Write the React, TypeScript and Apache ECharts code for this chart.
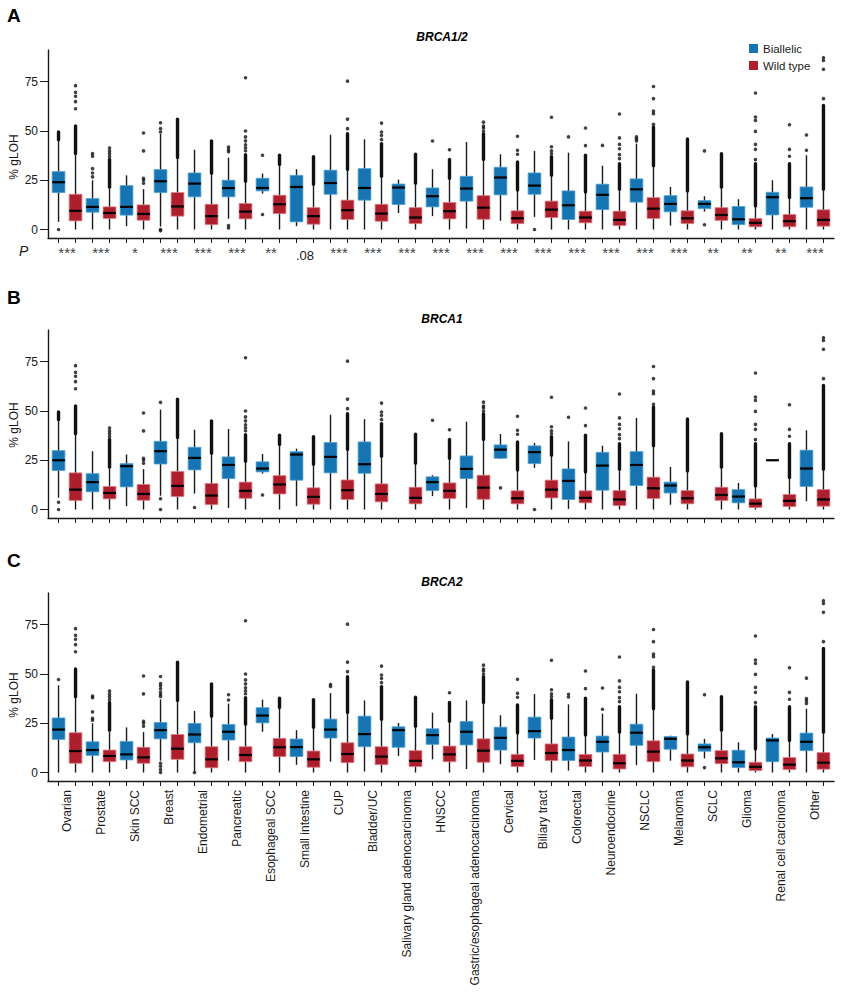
import React, { useEffect, useRef } from 'react';
import * as echarts from 'echarts';

const categories = [
  'Ovarian', 'Prostate', 'Skin SCC', 'Breast', 'Endometrial', 'Pancreatic', 'Esophageal SCC',
  'Small intestine', 'CUP', 'Bladder/UC', 'Salivary gland adenocarcinoma', 'HNSCC',
  'Gastric/esophageal adenocarcinoma', 'Cervical', 'Biliary tract', 'Colorectal', 'Neuroendocrine',
  'NSCLC', 'Melanoma', 'SCLC', 'Glioma', 'Renal cell carcinoma', 'Other',
];

const pValues = [
  '***', '***', '*', '***', '***', '***', '**', '.08', '***', '***', '***', '***',
  '***', '***', '***', '***', '***', '***', '***', '**', '**', '**', '***',
];

const yTickValues = [0, 25, 50, 75];

// box stats: [min, Q1, median, Q3, max]
const brca12Biallelic = [
  [3.9, 18.75, 24, 29.4, 45], [0, 8.8, 11.5, 15.7, 25], [1.7, 7.3, 11.5, 22.3, 27.5],
  [1.5, 18.75, 24.5, 30.4, 48.5], [0, 16.6, 23.3, 28.7, 40.5], [5.5, 16.6, 21, 25, 36.5],
  [18.2, 19.6, 21.1, 26, 28.4], [1.7, 3.9, 21.6, 27.5, 30.6], [0, 17.9, 23.6, 30.1, 48.1],
  [0, 14.9, 21.1, 30.9, 45.8], [8.4, 12.7, 21.3, 23.1, 25.3], [6.8, 11.5, 16.9, 21.1, 30.6],
  [0.5, 14.4, 20.8, 27, 44.4], [4.4, 17.6, 26.4, 31.6, 38.2], [6.4, 17.9, 22.3, 28.7, 39.9],
  [0, 5.1, 12.3, 19.6, 39], [0, 10.1, 17.6, 23, 32.4], [0, 13.9, 20.4, 25.7, 43.6],
  [2, 9, 13, 17.2, 21.6], [9.1, 10.6, 13, 14.7, 16.9], [0, 2.5, 5.2, 11.7, 15.4],
  [0, 7.4, 16.4, 18.9, 25], [0, 11.3, 15.9, 21.6, 37.7],
];
const brca12WildType = [
  [0, 4.4, 9.5, 17.9, 37.7], [0, 5.6, 8.4, 11.5, 20.8], [0, 4.7, 7.9, 12.5, 20.5],
  [0, 6.8, 11.7, 18.75, 36], [0, 2.5, 6.8, 12.8, 28], [0, 5.4, 9.1, 13.2, 24],
  [0, 8.1, 12.8, 17.4, 32.6], [0, 2.7, 6.8, 11.1, 22.5], [0, 5.1, 9.8, 14.9, 30],
  [0, 4.2, 8.1, 12.8, 26.7], [0, 3, 6.1, 11.1, 23], [0, 5.4, 9.3, 13.7, 25.8],
  [0, 5.2, 11.1, 17.2, 35], [0, 3, 5.7, 9.5, 19.6], [0, 6.1, 10.1, 14.4, 27],
  [0, 3.4, 6.1, 9.3, 18.6], [0, 2, 4.9, 9.3, 20], [0, 5.6, 10.6, 16.2, 31.8],
  [0, 3, 5.7, 9.5, 19], [0, 4.6, 7.4, 11.1, 21], [0, 1.4, 3.4, 5.6, 11.5],
  [0, 1.4, 4.2, 7.6, 15.7], [0, 1.7, 4.9, 10, 20],
];
const brca1Biallelic = [
  [6, 19.8, 25, 29.9, 44.8], [0, 9, 13.9, 18.2, 29.6], [1.7, 11.5, 22, 23.3, 27.9],
  [7, 23.1, 29.6, 34.6, 50.7], [8.1, 20.1, 26.2, 31.6, 40.5], [0.8, 15.7, 22.6, 26.7, 40.9],
  [18.2, 19.1, 20.8, 24.2, 28.2], [1.7, 14.9, 27.9, 29.4, 30.9], [0, 18.6, 26.7, 34, 48.1],
  [0, 18.4, 23, 34.3, 45.9], null, [6.8, 9.6, 13.9, 16.6, 17.4],
  [0.7, 15.7, 20.6, 27.2, 44.6], [25.7, 26, 30.4, 32.8, 38.3], [21.1, 23.3, 29.1, 32.3, 33.8],
  [0.3, 5.1, 14.5, 20.6, 34.6], [0, 9.8, 22.3, 29, 32.4], [0, 12.2, 22.6, 29.4, 46.5],
  [2.4, 8.4, 12.2, 13.9, 21.6], null, [0, 3.4, 6.6, 10.1, 13.5],
  [25, 25, 25, 25, 25], [4.2, 11.7, 20.8, 30.1, 40.2],
];
const brca1WildType = [
  [0, 4.6, 10.1, 18.6, 38], [0, 5.4, 8.4, 11.7, 20.8], [0, 4.7, 7.9, 12.7, 20.5],
  [0, 6.6, 12, 19.3, 36], [0, 2.5, 7.1, 13.2, 28], [0, 5.7, 9.5, 13.9, 24],
  [0, 7.9, 12.7, 17.2, 32.6], [0, 2.7, 6.4, 11, 22.5], [0, 5.1, 9.8, 15, 30],
  [0, 3.9, 7.9, 13, 26.7], [0, 2.9, 5.9, 11.3, 23], [0, 5.6, 9.5, 13.5, 25.8],
  [0, 5.2, 11.1, 17.4, 35], [0, 2.9, 5.7, 9.5, 19.6], [0, 5.9, 10.1, 14.9, 27],
  [0, 3.4, 5.9, 9.5, 18.6], [0, 2, 5.1, 9.6, 20], [0, 5.6, 10.8, 16.4, 31.8],
  [0, 2.9, 5.7, 9.6, 19], [0, 4.6, 7.4, 11.3, 21], [0, 1, 3, 5.4, 11.5],
  [0, 1.5, 4.4, 7.6, 15.7], [0, 1.7, 5.1, 10.1, 20],
];
const brca2Biallelic = [
  [0, 16.8, 21.8, 27.7, 44.2], [0, 8.7, 11.4, 15.6, 25], [1.8, 6.4, 9.2, 15.8, 22.9],
  [6, 17.1, 21.5, 25.4, 37.1], [0.5, 15.1, 19.3, 24.9, 31.3], [6, 16.5, 20.7, 24.4, 35],
  [20.7, 25.2, 28.9, 32.9, 37], [3.9, 8.1, 12.9, 17, 21.5], [5.5, 17.5, 21.8, 27.1, 40.3],
  [0.5, 13.1, 19.5, 28.6, 36.6], [8.4, 12.8, 21.5, 23.2, 25.2], [6.7, 14.3, 19, 22.2, 30.4],
  [1.8, 14, 20.7, 25.9, 36.6], [4.2, 11.4, 17.6, 23, 29.1], [6.4, 17.5, 21, 28.1, 39.8],
  [1, 6.1, 11.4, 18, 34.6], [0, 10.4, 15.6, 18.5, 29.9], [3.7, 13.8, 20.2, 24.5, 40],
  [6, 11.8, 17.1, 18.3, 18.7], [7.1, 10.8, 12.8, 14.5, 17.1], [0, 2.5, 5.2, 11.3, 15.3],
  [0, 5.5, 16.3, 17.5, 19.5], [0, 11.1, 15.6, 20, 32.4],
];
const brca2WildType = [
  [0, 4.7, 10.9, 20.2, 38], [0, 5.5, 8.4, 11.4, 20.8], [0, 4.7, 7.7, 12.8, 20.5],
  [0, 6.7, 12.1, 19.3, 36], [0, 2.4, 6.7, 13.1, 28], [0, 5.5, 8.9, 13.1, 24],
  [0, 8.1, 12.8, 17.3, 32.6], [0, 2.7, 6.7, 10.9, 22.5], [0, 5, 9.4, 15.1, 30],
  [0, 4, 8.1, 13.1, 26.7], [0, 3, 5.9, 11.1, 23], [0, 5.5, 9.2, 13.4, 25.8],
  [0, 5.2, 11.1, 17.1, 35], [0, 3, 5.9, 9.2, 19.6], [0, 6.1, 9.9, 14.5, 27],
  [0, 3, 6.1, 9.2, 18.6], [0, 1.8, 4.7, 9.2, 20], [0, 5.5, 10.6, 16.1, 31.8],
  [0, 2.9, 6.1, 9.4, 19], [0, 4.5, 7.2, 11.1, 21], [0, 1, 2.9, 5.2, 11.5],
  [0, 1.5, 4, 7.6, 15.7], [0, 1.7, 5, 10.1, 20],
];

// outliers: single points per category
const brca12BiallelicOutliers = [
  [0], [26.7, 28.7, 30.9, 37.2, 38.5], [], [49.5, 51.2, 54.2, 0, -0.6], [], [39.5, 40.5, 41.8, 2, 0.8],
  [37.7, 7.6], [], [], [], [], [44.9], [], [], [0], [47], [42.7], [45, 46, 47], [], [39.9, 2.4], [], [], [40.2, 48],
];
const brca1BiallelicOutliers = [
  [3.7, 0], [], [], [54.4, 5.5, 0], [1], [], [7.4], [], [], [], [], [45.3], [], [11], [0], [46.8],
  [], [], [], [], [], [], [],
];
const brca2BiallelicOutliers = [
  [47.2], [26.5, 27.5, 30.8, 38, 38.8], [], [38.6, 39.6, 40.8, 42.5, 44, 45.2, 48.7, 4.7, 3.2, 1.5, 0],
  [0], [36.8, 39.5], [], [], [43.7, 44.7], [], [], [], [], [], [], [38.3, 39.7], [32.1, 42.9],
  [], [], [39.5, 2.5], [], [], [35, 36.3, 37.5, 47.9],
];
const wildTypeOutliers = [
  [61.3, 64.9, 67.6, 69.6, 73], [37, 38.5, 39.9, 41.4], [23.5, 25, 26, 39.9, 49], [], [],
  [40, 41.5, 43, 45, 47, 50, 77], [], [], [51.2, 56, 75.3], [45.6, 47.8, 49.5, 54], [], [40.5],
  [50, 51.5, 52.5, 54.5], [38.2, 40.2, 47.3], [38.5, 40, 42, 57], [42.6, 51.5],
  [36, 38, 41, 43.2, 46.5, 58.6], [53.4, 58.8, 60.1, 66.4, 72.6], [], [],
  [35.5, 40.7, 43.2, 49.8, 55.4, 57.1, 69.3], [37.2, 40.7, 53.2], [66.4, 81.3, 85.8, 87.2],
];
// dense runs of overlapping outliers: [category index, from, to]
const brca12BiallelicRuns = [[0, 45.5, 49.5]];
const brca1BiallelicRuns = [[0, 45.5, 49.5]];
const brca2BiallelicRuns: number[][] = [];
const wildTypeRuns = [
  [0, 38.5, 52.5], [1, 21.5, 35.5], [3, 36.5, 56], [4, 28.5, 45], [5, 24.5, 38], [6, 33, 37.7],
  [7, 23, 37], [8, 30.5, 48.6], [9, 27, 43.6], [10, 23.5, 38.2], [11, 26, 35.5], [12, 35.5, 48.6],
  [13, 20, 34.3], [14, 27.5, 37], [15, 19, 37.7], [16, 20.5, 33.4], [17, 32.3, 52], [18, 19.5, 46],
  [19, 21.5, 38.5], [20, 12, 33.4], [21, 16.2, 33.4], [22, 20.5, 63],
];

const BLUE = '#1574b1';
const BLUE_EDGE = '#4c9fd3';
const RED = '#ad1f2d';
const RED_EDGE = '#dc7a83';
const INK = '#1a1a1a';
const FONT = '"Liberation Sans", Arial, Helvetica, sans-serif';

const panels = [
  { letter: 'A', title: 'BRCA1/2', top: 50, letterY: 15, titleY: 37, yLabelY: 157, labels: 'p',
    bi: brca12Biallelic, wt: brca12WildType, biOut: brca12BiallelicOutliers, biRuns: brca12BiallelicRuns },
  { letter: 'B', title: 'BRCA1', top: 330, letterY: 297, titleY: 319, yLabelY: 425, labels: 'none',
    bi: brca1Biallelic, wt: brca1WildType, biOut: brca1BiallelicOutliers, biRuns: brca1BiallelicRuns },
  { letter: 'C', title: 'BRCA2', top: 593, letterY: 560, titleY: 582, yLabelY: 695, labels: 'cat',
    bi: brca2Biallelic, wt: brca2WildType, biOut: brca2BiallelicOutliers, biRuns: brca2BiallelicRuns },
];

const GRID_LEFT = 48;
const GRID_WIDTH = 786;
const GRID_HEIGHT = 188;

function boxData(boxes: (number[] | null)[], offset: number) {
  const out: number[][] = [];
  boxes.forEach((b, i) => { if (b) out.push([2 * i + offset, ...b]); });
  return out;
}
function outlierData(outs: number[][], offset: number) {
  const out: number[][] = [];
  outs.forEach((vals, i) => vals.forEach((v) => out.push([2 * i + offset, v])));
  return out;
}
function runData(runs: number[][], offset: number) {
  return runs.map(([i, lo, hi]) => [2 * i + offset, lo, hi]);
}

const makeBoxRenderer = (fill: string, stroke: string) => (_params: any, api: any) => {
  const x = api.value(0);
  const lo = api.coord([x, api.value(1)]);
  const q1 = api.coord([x, api.value(2)]);
  const med = api.coord([x, api.value(3)]);
  const q3 = api.coord([x, api.value(4)]);
  const hi = api.coord([x, api.value(5)]);
  const w = api.size([1, 0])[0] * 0.75;
  const cx = med[0];
  return {
    type: 'group',
    children: [
      { type: 'line', shape: { x1: cx, y1: lo[1], x2: cx, y2: hi[1] }, style: { stroke: INK, lineWidth: 1.4 } },
      { type: 'rect', shape: { x: cx - w / 2, y: q3[1], width: w, height: Math.max(q1[1] - q3[1], 0) },
        style: { fill, stroke, lineWidth: 0.8 } },
      { type: 'line', shape: { x1: cx - w / 2, y1: med[1], x2: cx + w / 2, y2: med[1] },
        style: { stroke: '#000', lineWidth: 2.2 } },
    ],
  };
};

const renderRun = (_params: any, api: any) => {
  const x = api.value(0);
  const a = api.coord([x, api.value(1)]);
  const b = api.coord([x, api.value(2)]);
  return {
    type: 'line',
    shape: { x1: a[0], y1: a[1], x2: b[0], y2: b[1] },
    style: { stroke: '#111', lineWidth: 3.4, lineCap: 'round' },
  };
};

export default function App() {
  const ref = useRef<HTMLDivElement>(null);
  useEffect(() => {
    if (!ref.current) return;
    const chart = echarts.init(ref.current, undefined, { renderer: 'svg' });
    const tickVals = categories.flatMap((_, i) => [2 * i, 2 * i + 1]);
    const labelVals = categories.map((_, i) => 2 * i + 0.5);

    const grid: any[] = [];
    const xAxis: any[] = [];
    const yAxis: any[] = [];
    const series: any[] = [];
    const graphic: any[] = [];

    panels.forEach((p, pi) => {
      grid.push({ left: GRID_LEFT, top: p.top, width: GRID_WIDTH, height: GRID_HEIGHT, outerBoundsMode: 'none' });
      let axisLabel: any = { show: false };
      if (p.labels === 'p') {
        axisLabel = {
          show: true, customValues: labelVals, color: '#333', margin: 7, fontFamily: FONT,
          formatter: (v: number) => {
            const s = pValues[Math.round((v - 0.5) / 2)] ?? '';
            return s.startsWith('*') ? `{star|${s}}` : `{num|${s}}`;
          },
          rich: {
            star: { fontSize: 15, fontFamily: FONT, color: '#444', lineHeight: 15 },
            num: { fontSize: 13, fontFamily: FONT, color: INK, lineHeight: 15, padding: [6, 0, 0, 0] },
          },
        };
      } else if (p.labels === 'cat') {
        axisLabel = {
          show: true, customValues: labelVals, fontSize: 12, color: INK, margin: 9, rotate: 90, fontFamily: FONT,
          formatter: (v: number) => categories[Math.round((v - 0.5) / 2)] ?? '',
        };
      }
      xAxis.push({
        gridIndex: pi, type: 'value', min: -0.62, max: 45.62,
        axisLine: { show: true, onZero: false, lineStyle: { color: INK, width: 1.4 } },
        axisTick: { show: true, customValues: tickVals, length: 5, lineStyle: { color: INK, width: 1 } },
        axisLabel,
        splitLine: { show: false },
      });
      yAxis.push({
        gridIndex: pi, type: 'value', min: -4.3, max: 91.1,
        axisLine: { show: true, onZero: false, lineStyle: { color: INK, width: 1.4 } },
        axisTick: { show: true, customValues: yTickValues, length: 8, lineStyle: { color: INK, width: 1 } },
        axisLabel: { customValues: yTickValues, fontSize: 12, color: INK, margin: 10, fontFamily: FONT },
        splitLine: { show: false },
      });
      series.push({
        type: 'custom', name: 'Biallelic', xAxisIndex: pi, yAxisIndex: pi,
        renderItem: makeBoxRenderer(BLUE, BLUE_EDGE), encode: { x: 0, y: [1, 2, 3, 4, 5] },
        data: boxData(p.bi, 0), z: 2, silent: true,
      });
      series.push({
        type: 'custom', name: 'Wild type', xAxisIndex: pi, yAxisIndex: pi,
        renderItem: makeBoxRenderer(RED, RED_EDGE), encode: { x: 0, y: [1, 2, 3, 4, 5] },
        data: boxData(p.wt, 1), z: 2, silent: true,
      });
      series.push({
        type: 'custom', name: 'runs', xAxisIndex: pi, yAxisIndex: pi,
        renderItem: renderRun, encode: { x: 0, y: [1, 2] },
        data: [...runData(p.biRuns, 0), ...runData(wildTypeRuns, 1)], z: 3, silent: true,
      });
      series.push({
        type: 'scatter', name: 'outliers', xAxisIndex: pi, yAxisIndex: pi,
        symbol: 'circle', symbolSize: 3.6, itemStyle: { color: '#111' },
        data: [...outlierData(p.biOut, 0), ...outlierData(wildTypeOutliers, 1)], z: 3, silent: true,
      });

      graphic.push({
        type: 'text', x: 7, y: p.letterY,
        style: { text: p.letter, font: `bold 19px ${FONT}`, fill: '#000', textVerticalAlign: 'middle', textAlign: 'left' },
      });
      graphic.push({
        type: 'text', x: 442, y: p.titleY,
        style: { text: p.title, font: `italic bold 12px ${FONT}`, fill: '#000', textVerticalAlign: 'middle', textAlign: 'center' },
      });
      graphic.push({
        type: 'text', x: 14, y: p.yLabelY, rotation: Math.PI / 2,
        style: { text: '% gLOH', font: `12px ${FONT}`, fill: INK, textVerticalAlign: 'middle', textAlign: 'center' },
      });
    });

    graphic.push({
      type: 'text', x: 19, y: 251,
      style: { text: 'P', font: `italic 14px ${FONT}`, fill: INK, textVerticalAlign: 'middle', textAlign: 'left' },
    });
    graphic.push({ type: 'rect', shape: { x: 749, y: 44, width: 9, height: 9 }, style: { fill: BLUE } });
    graphic.push({ type: 'rect', shape: { x: 749, y: 61, width: 9, height: 9 }, style: { fill: RED } });
    graphic.push({
      type: 'text', x: 763, y: 48.5,
      style: { text: 'Biallelic', font: `11.5px ${FONT}`, fill: INK, textVerticalAlign: 'middle', textAlign: 'left' },
    });
    graphic.push({
      type: 'text', x: 763, y: 65.5,
      style: { text: 'Wild type', font: `11.5px ${FONT}`, fill: INK, textVerticalAlign: 'middle', textAlign: 'left' },
    });

    chart.setOption({
      animation: false,
      backgroundColor: '#fff',
      textStyle: { fontFamily: FONT },
      grid, xAxis, yAxis, series, graphic,
    });
    return () => chart.dispose();
  }, []);
  return <div ref={ref} style={{ position: 'absolute', left: 0, top: 0, width: 842, height: 1000 }} />;
}
